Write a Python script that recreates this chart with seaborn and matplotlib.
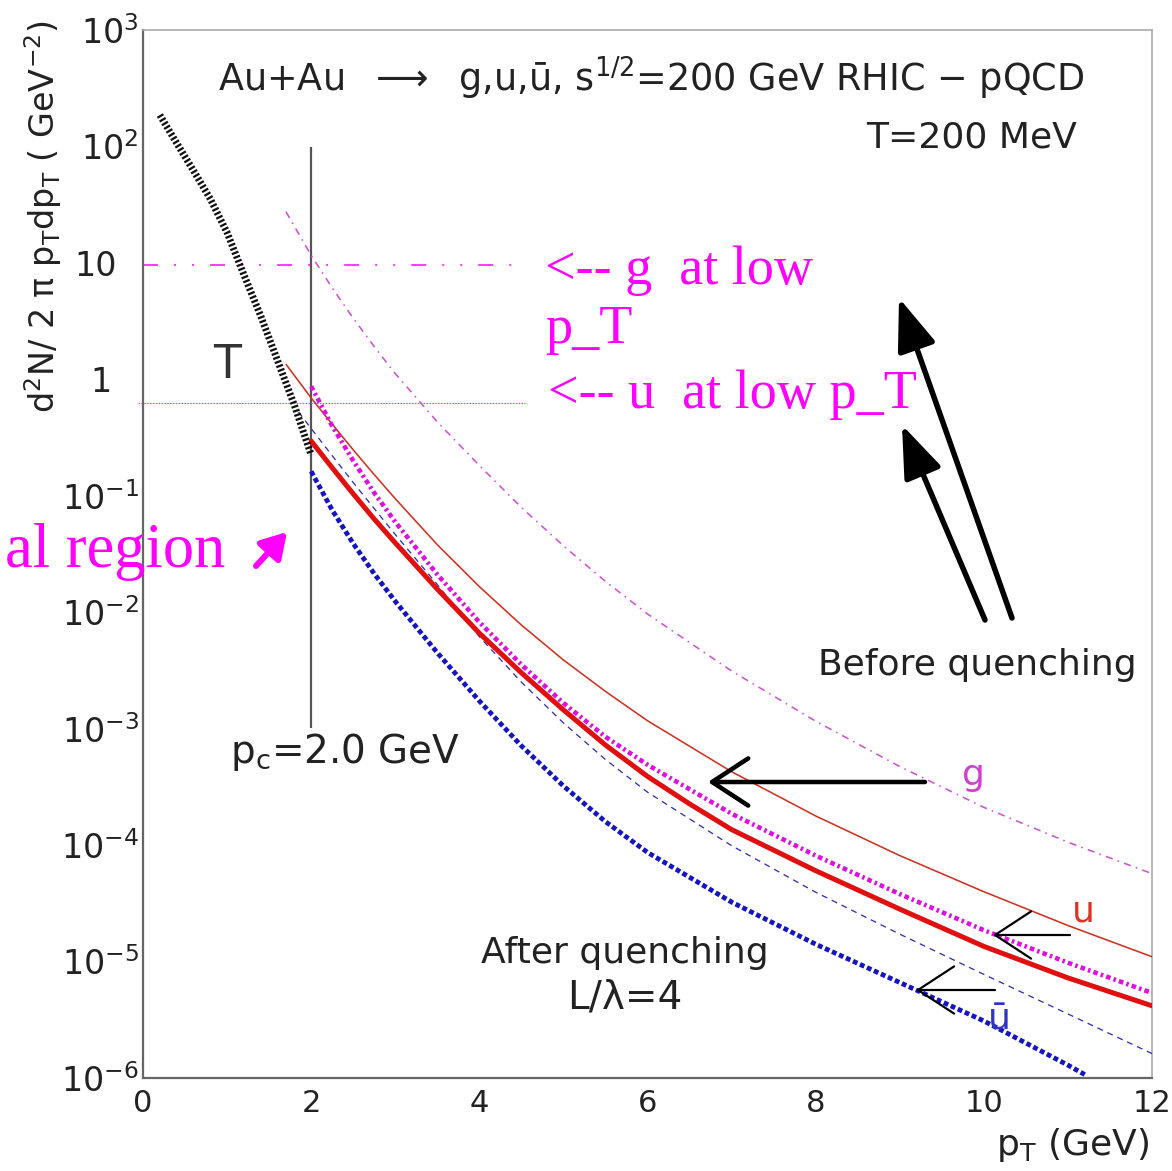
import numpy as np
import pandas as pd
import matplotlib
matplotlib.use("Agg")
import matplotlib.pyplot as plt
import seaborn as sns
from matplotlib.ticker import LogLocator, NullFormatter, MultipleLocator, FixedLocator
from matplotlib.transforms import ScaledTranslation
from matplotlib.patches import FancyArrowPatch

# ---------------- data ----------------
thermal_pt = [0.2, 0.4, 0.6, 0.8, 1.0, 1.2, 1.4, 1.6, 1.8, 2.0]
thermal_y = [186, 107, 62, 35.5, 18.2, 7.9, 3.5, 1.45, 0.60, 0.224]

g_before_pt = [1.7, 2.0, 2.25, 2.5, 2.75, 3.0, 3.5, 4.0, 4.5, 5.0, 5.5, 6.0,
               7.0, 8.0, 9.0, 10.0, 11.0, 12.0]
g_before_y = [27.5, 11.6, 6.10, 3.35, 1.91, 1.12, 0.431, 0.182, 0.0794, 0.0372,
              0.0184, 9.66e-3, 3.13e-3, 1.16e-3, 4.73e-4, 2.11e-4, 1.06e-4, 5.69e-5]

u_before_pt = [1.7, 2.0, 2.25, 2.5, 2.75, 3.0, 3.5, 4.0, 4.5, 5.0, 5.5, 6.0,
               7.0, 8.0, 9.0, 10.0, 11.0, 12.0]
u_before_y = [1.35, 0.692, 0.412, 0.248, 0.152, 0.0944, 0.0380, 0.0166, 7.76e-3,
              3.89e-3, 2.09e-3, 1.17e-3, 4.27e-4, 1.78e-4, 8.13e-5, 3.98e-5,
              2.04e-5, 1.10e-5]

u_after_pt = [2.0, 2.25, 2.5, 2.75, 3.0, 3.5, 4.0, 4.5, 5.0, 5.5, 6.0, 6.5,
              7.0, 8.0, 9.0, 10.0, 11.0, 12.0]
u_after_y = [0.295, 0.174, 0.104, 0.0631, 0.0394, 0.0158, 6.61e-3, 3.02e-3, 1.45e-3,
             7.24e-4, 3.89e-4, 2.26e-4, 1.36e-4, 6.03e-5, 2.82e-5, 1.35e-5, 7.24e-6,
             4.17e-6]

g_after_pt = [2.0, 2.25, 2.5, 2.75, 3.0, 3.5, 4.0, 4.5, 5.0, 5.5, 6.0,
              7.0, 8.0, 9.0, 10.0, 11.0, 12.0]
g_after_y = [0.871, 0.398, 0.200, 0.106, 0.0596, 0.0211, 8.22e-3, 3.55e-3, 1.66e-3,
             8.51e-4, 4.90e-4, 1.86e-4, 8.13e-5, 3.80e-5, 1.86e-5, 9.77e-6, 5.37e-6]

ubar_before_pt = [1.85, 2.0, 2.25, 2.5, 2.75, 3.0, 3.5, 4.0, 4.5, 5.0, 5.5, 6.0,
                  7.0, 8.0, 9.0, 10.0, 11.0, 12.0]
ubar_before_y = [0.525, 0.378, 0.221, 0.130, 0.0776, 0.0465, 0.0173, 6.17e-3, 2.51e-3,
                 1.12e-3, 5.43e-4, 2.85e-4, 9.89e-5, 3.94e-5, 1.72e-5, 7.76e-6,
                 3.55e-6, 1.62e-6]

ubar_after_pt = [2.0, 2.25, 2.5, 2.75, 3.0, 3.5, 4.0, 4.5, 5.0, 5.5, 6.0,
                 7.0, 8.0, 9.0, 10.0, 11.0, 11.2]
ubar_after_y = [0.162, 0.0754, 0.0389, 0.0214, 0.0124, 4.49e-3, 1.73e-3, 7.12e-4,
                3.22e-4, 1.59e-4, 8.66e-5, 3.24e-5, 1.41e-5, 6.61e-6, 3.09e-6,
                1.29e-6, 1.07e-6]

pc_value = 2.0                 # cut momentum p_c (GeV)
pc_line_y = [1.02e-3, 99.0]    # vertical extent of the p_c marker
g_low_level = 9.6              # "g at low p_T" level
g_low_pt = [0.0, 4.48]
u_low_level = 0.63             # "u at low p_T" level
u_low_pt = [-0.06, 4.54]

x_ticks = [0, 2, 4, 6, 8, 10, 12]
y_ticks = [1e-6, 1e-5, 1e-4, 1e-3, 1e-2, 1e-1, 1, 10, 1e2, 1e3]
y_tick_labels = [r"$10^{-6}$", r"$10^{-5}$", r"$10^{-4}$", r"$10^{-3}$", r"$10^{-2}$",
                 r"$10^{-1}$", "1", "10", r"$10^{2}$", r"$10^{3}$"]

# ---------------- style ----------------
sns.set_theme(style="white")
plt.rcParams["font.family"] = ["DejaVu Sans"]
plt.rcParams["mathtext.fontset"] = "dejavusans"
plt.rcParams["mathtext.default"] = "regular"

W, H = 1172, 1171
PT = 72.0 / 100.0  # points per pixel at dpi 100


def fx(px):
    return px / W


def fy(py):
    return 1.0 - py / H


fig = plt.figure(figsize=(W / 100, H / 100), dpi=100)
fig.patch.set_facecolor("white")
ax = fig.add_axes([fx(143), fy(1078), (1152 - 143) / W, (1078 - 30) / H])
ax.set_facecolor("white")


def curve(x, y, color, lw_px, ls, cap="butt", z=3, clip=True):
    sns.lineplot(x=x, y=y, ax=ax, color=color, linewidth=lw_px * PT, linestyle=ls,
                 dash_capstyle=cap, solid_capstyle=cap, errorbar=None, estimator=None,
                 legend=False, zorder=z, sort=False)
    ax.lines[-1].set_clip_on(clip)


# reference lines
curve([pc_value, pc_value], pc_line_y, "#555555", 2.2, "-", z=2)
curve(g_low_pt, [g_low_level] * 2, "#ff00ff", 1.5, (0, (10, 10.7, 1.3, 10.7, 1.3, 10.7)), z=2)
curve(u_low_pt, [u_low_level] * 2, "#ff33ff", 1.2, (0, (1.2, 1.2)), z=2, clip=False)

# spectra
curve(thermal_pt, thermal_y, "#111111", 7.0, (0, (0.32, 0.30)), z=4)
curve(g_before_pt, g_before_y, "#cc55cc", 1.6, (0, (4.5, 3.3, 1.0, 3.3)))
curve(u_before_pt, u_before_y, "#cc3322", 1.6, "-")
curve(ubar_before_pt, ubar_before_y, "#3030b0", 1.3, (0, (4.6, 3.8)))
curve(u_after_pt, u_after_y, "#e01010", 5.0, "-", cap="round")
curve(g_after_pt, g_after_y, "#dd11dd", 4.6, (0, (1.0, 0.7, 0.55, 0.7)))
curve(ubar_after_pt, ubar_after_y, "#1515c0", 4.8, (0, (1.0, 0.6)))

# axes
ax.set_yscale("log")
ax.set_xlim(0, 12)
ax.set_ylim(1e-6, 1e3)
ax.xaxis.set_major_locator(FixedLocator(x_ticks))
ax.xaxis.set_minor_locator(MultipleLocator(0.5))
ax.set_xticklabels([str(v) for v in x_ticks])
ax.yaxis.set_major_locator(FixedLocator(y_ticks))
ax.yaxis.set_minor_locator(LogLocator(base=10, subs=np.arange(2, 10), numticks=100))
ax.yaxis.set_minor_formatter(NullFormatter())
ax.set_yticklabels(y_tick_labels)

ax.tick_params(axis="both", which="major", direction="in", length=18 * PT, width=1.2,
               color="#888888", top=False, right=False)
ax.tick_params(axis="both", which="minor", direction="in", length=9 * PT, width=1.0,
               color="#888888", top=False, right=False)
ax.tick_params(axis="y", which="major", labelsize=24, pad=3, labelcolor="#222222")
ax.tick_params(axis="x", which="major", labelsize=22, pad=8, labelcolor="#222222")

for side in ["left", "bottom"]:
    ax.spines[side].set_color("#666666")
    ax.spines[side].set_linewidth(1.6)
for side in ["top", "right"]:
    ax.spines[side].set_color("#aaaaaa")
    ax.spines[side].set_linewidth(1.2)

ax.set_ylabel(r"d$^{2}$N/ 2 π p$_{\rm T}$dp$_{\rm T}$ ( GeV$^{-2}$)", fontsize=24,
              color="#222222")
ax.yaxis.set_label_coords(-0.078, 0.8215)
ax.set_xlabel(r"p$_{\rm T}$ (GeV)", fontsize=26, color="#222222", ha="right")
ax.xaxis.set_label_coords(0.997, -0.046)

# ---------------- annotations ----------------
dark = "#222222"
fig.text(fx(218), fy(92), r"Au+Au  $\longrightarrow$  g,u,ū, s$^{1/2}$=200 GeV RHIC $-$ pQCD",
         fontsize=26.4, color=dark, ha="left", va="baseline")
fig.text(fx(1077), fy(147), "T=200 MeV", fontsize=26, color=dark, ha="right", va="baseline")
fig.text(fx(213), fy(378), "T", fontsize=33, color="#333333", ha="left", va="baseline")
fig.text(fx(230), fy(763), r"p$_{\rm c}$=2.0 GeV", fontsize=28, color=dark, ha="left",
         va="baseline")
fig.text(fx(818), fy(675), "Before quenching", fontsize=26, color=dark, ha="left",
         va="baseline")
fig.text(fx(625), fy(963), "After quenching", fontsize=26, color=dark, ha="center",
         va="baseline")
fig.text(fx(625), fy(1008), "L/λ=4", fontsize=28, color=dark, ha="center", va="baseline")
fig.text(fx(962), fy(785), "g", fontsize=26, color="#d040d0", ha="left", va="baseline")
fig.text(fx(1072), fy(922), "u", fontsize=26, color="#dd3322", ha="left", va="baseline")
fig.text(fx(988), fy(1030), "ū", fontsize=26, color="#3333bb", ha="left", va="baseline")

mag = "#ff00ff"
serif = ["Liberation Serif", "DejaVu Serif"]
fig.text(fx(545), fy(284), "<-- g  at low", fontsize=39, color=mag, family=serif,
         ha="left", va="baseline")
fig.text(fx(545), fy(343), "p_T", fontsize=39, color=mag, family=serif,
         ha="left", va="baseline")
fig.text(fx(548), fy(408), "<-- u  at low p_T", fontsize=39, color=mag, family=serif,
         ha="left", va="baseline")
fig.text(fx(5), fy(567), "al region", fontsize=45, color=mag, family=serif,
         ha="left", va="baseline")

# magenta small arrow
fig.add_artist(FancyArrowPatch(
    (fx(256), fy(566)), (fx(287), fy(532)), transform=fig.transFigure,
    arrowstyle="-|>,head_length=0.75,head_width=0.45", mutation_scale=20,
    color=mag, linewidth=6 * PT, shrinkA=0, shrinkB=0))

# big black arrows (figure coordinates)
for (x0, y0, x1, y1) in [(1012, 618, 899, 298), (985, 620, 902, 425)]:
    fig.add_artist(FancyArrowPatch(
        (fx(x0), fy(y0)), (fx(x1), fy(y1)), transform=fig.transFigure,
        arrowstyle="-|>,head_length=1.6,head_width=0.6", mutation_scale=20,
        color="black", linewidth=5.5 * PT, shrinkA=0, shrinkB=0))

# quenching shift arrows (open heads)
for (x0, y0, x1, y1, lw) in [(925, 782, 708, 782, 4.5), (1070, 935, 993, 935, 2.2),
                             (995, 990, 916, 990, 2.2)]:
    fig.add_artist(FancyArrowPatch(
        (fx(x0), fy(y0)), (fx(x1), fy(y1)), transform=fig.transFigure,
        arrowstyle="->,head_length=1.3,head_width=0.85", mutation_scale=20,
        color="black", linewidth=lw * PT, shrinkA=0, shrinkB=0))

# shift the labels without exponent so their digits sit where the reference has them
fig.canvas.draw()
label_shift_px = {"1": -27, "10": -22}
for tick in ax.yaxis.get_major_ticks():
    txt = tick.label1.get_text()
    if txt in label_shift_px:
        tick.label1.set_transform(tick.label1.get_transform() +
                                  ScaledTranslation(label_shift_px[txt] / 100.0, 0,
                                                    fig.dpi_scale_trans))

fig.savefig("out.png", dpi=100, facecolor="white")
